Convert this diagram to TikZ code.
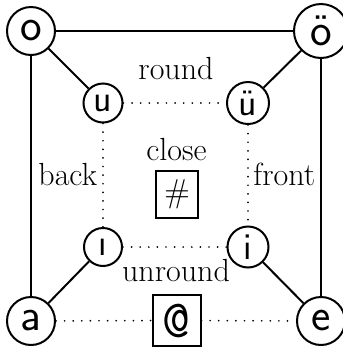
\documentclass[tikz,border=0pt]{standalone}
\usepackage{fontspec}
\begin{document}
\begin{tikzpicture}[x=1pt,y=-1pt,
  outer/.style={circle,draw,line width=2pt,inner sep=0pt,minimum size=48pt,font=\fontsize{46}{52}\selectfont\sffamily},
  innr/.style={circle,draw,line width=2pt,inner sep=0pt,minimum size=39pt,font=\fontsize{38}{44}\selectfont\sffamily},
  solid edge/.style={line width=2pt},
  dotline/.style={line width=1.9pt,line cap=round,dash pattern=on 0pt off 8.6pt},
  lbl/.style={font=\fontsize{32}{38}\selectfont,inner sep=0pt,anchor=base},
  boxn/.style={draw,line width=2pt,inner sep=0pt,font=\fontsize{33}{40}\selectfont}]
\useasboundingbox (0,0) rectangle (343,349);
% outer nodes
\node[outer] (o) at (31,31) {o};
\node[outer,minimum size=54pt] (oe) at (321,31) {ö};
\node[outer] (a) at (31,321) {a};
\node[outer] (e) at (321,321) {e};
% inner nodes
\node[innr] (u) at (103,103) {u};
\node[innr,minimum size=42pt] (ue) at (248,103) {ü};
\node[innr,minimum size=38pt] (idl) at (103,247) {ı};
\node[innr,minimum size=41pt] (i) at (248,247) {i};
% boxes
\node[boxn,minimum width=42.6pt,minimum height=47pt] (hash) at (177,194) {\#};
\node[boxn,minimum width=48pt,minimum height=51pt,font=\fontsize{54}{60}\selectfont\ttfamily] (at) at (176.5,320.5) {@};
% labels
\node[lbl] (round) at (176,79) {round};
\node[lbl] (close) at (176.5,160) {close};
\node[lbl] (back) at (67.8,185) {back};
\node[lbl] (front) at (284.3,185) {front};
\node[lbl] (unround) at (176,281) {unround};
% solid connectors
\draw[solid edge] (o) -- (oe);
\draw[solid edge] (o) -- (a);
\draw[solid edge] (oe) -- (e);
\draw[solid edge] (o) -- (u);
\draw[solid edge] (oe) -- (ue);
\draw[solid edge] (a) -- (idl);
\draw[solid edge] (e) -- (i);
% dotted connectors
\draw[dotline] (u) -- (ue);
\draw[dotline] (u) -- (idl);
\draw[dotline] (ue) -- (i);
\draw[dotline] (idl) -- (i);
\draw[dotline] (a) -- (at);
\draw[dotline] (at) -- (e);
\end{tikzpicture}
\end{document}
